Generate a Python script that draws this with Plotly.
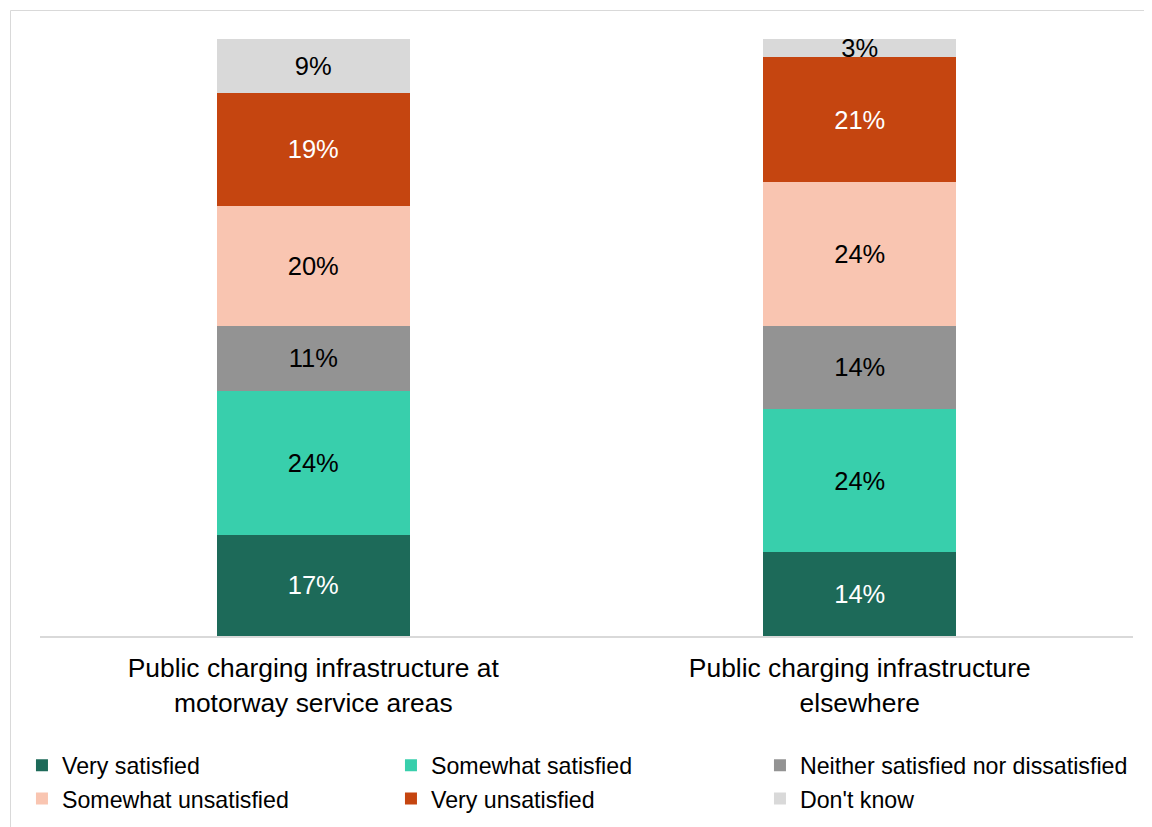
import plotly.graph_objects as go

categories = ["Public charging infrastructure at<br>motorway service areas",
              "Public charging infrastructure<br>elsewhere"]
series_names = ["Very satisfied", "Somewhat satisfied", "Neither satisfied nor dissatisfied",
                "Somewhat unsatisfied", "Very unsatisfied", "Don't know"]
very_satisfied = [17, 14]
somewhat_satisfied = [24, 24]
neither = [11, 14]
somewhat_unsatisfied = [20, 24]
very_unsatisfied = [19, 21]
dont_know = [9, 3]
series_values = [very_satisfied, somewhat_satisfied, neither,
                 somewhat_unsatisfied, very_unsatisfied, dont_know]
colors = ["#1D6A59", "#38CFAC", "#939393", "#F9C5B1", "#C54510", "#D9D9D9"]
text_colors = ["white", "black", "black", "black", "white", "black"]

FONT = "Liberation Sans, Arial, sans-serif"

# page body has an 8px offset; compensate in the margins
W, H = 1152, 840
ML, MR, MT, MB = 32, 27, 31, 212
PW, PH = W - ML - MR, H - MT - MB
PB = H - MB  # plot bottom in figure px

fig = go.Figure()
for name, vals, col, tcol in zip(series_names, series_values, colors, text_colors):
    fig.add_trace(go.Bar(
        x=categories, y=vals, name=name,
        marker=dict(color=col, line=dict(width=0)),
        text=[f"{v}%" for v in vals],
        textposition="inside", insidetextanchor="middle",
        textangle=0, constraintext="none",
        textfont=dict(color=tcol, size=25.5, family=FONT),
        hoverinfo="skip",
    ))

fig.update_layout(
    barmode="stack",
    bargap=0.647,
    width=W, height=H,
    margin=dict(l=ML, r=MR, t=MT, b=MB),
    paper_bgcolor="white", plot_bgcolor="white",
    font=dict(family=FONT, color="black"),
    uniformtext=dict(minsize=25.5, mode="show"),
    showlegend=True,
    legend=dict(
        orientation="h", traceorder="normal",
        x=-0.0165, xanchor="left", y=-0.1805, yanchor="top",
        entrywidth=324, entrywidthmode="pixels",
        font=dict(size=23.2, family=FONT, color="black"),
        itemclick=False, itemdoubleclick=False,
        bgcolor="rgba(0,0,0,0)",
    ),
    xaxis=dict(
        showline=True, linecolor="#D9D9D9", linewidth=1.5,
        ticks="", tickfont=dict(size=26.4, family=FONT, color="black"),
        ticklabelstandoff=8,
        showgrid=False, fixedrange=True,
    ),
    yaxis=dict(
        range=[0, 100], visible=False, showgrid=False, fixedrange=True,
    ),
    shapes=[dict(
        type="rect", xref="paper", yref="paper",
        x0=(2.5 - ML) / PW, x1=(W + 20 - ML) / PW,
        y0=-(H + 20 - PB) / PH, y1=(PB - 2.5) / PH,
        line=dict(color="#D9D9D9", width=1), fillcolor="rgba(0,0,0,0)",
        layer="below",
    )],
)

fig.write_html("out.html")
